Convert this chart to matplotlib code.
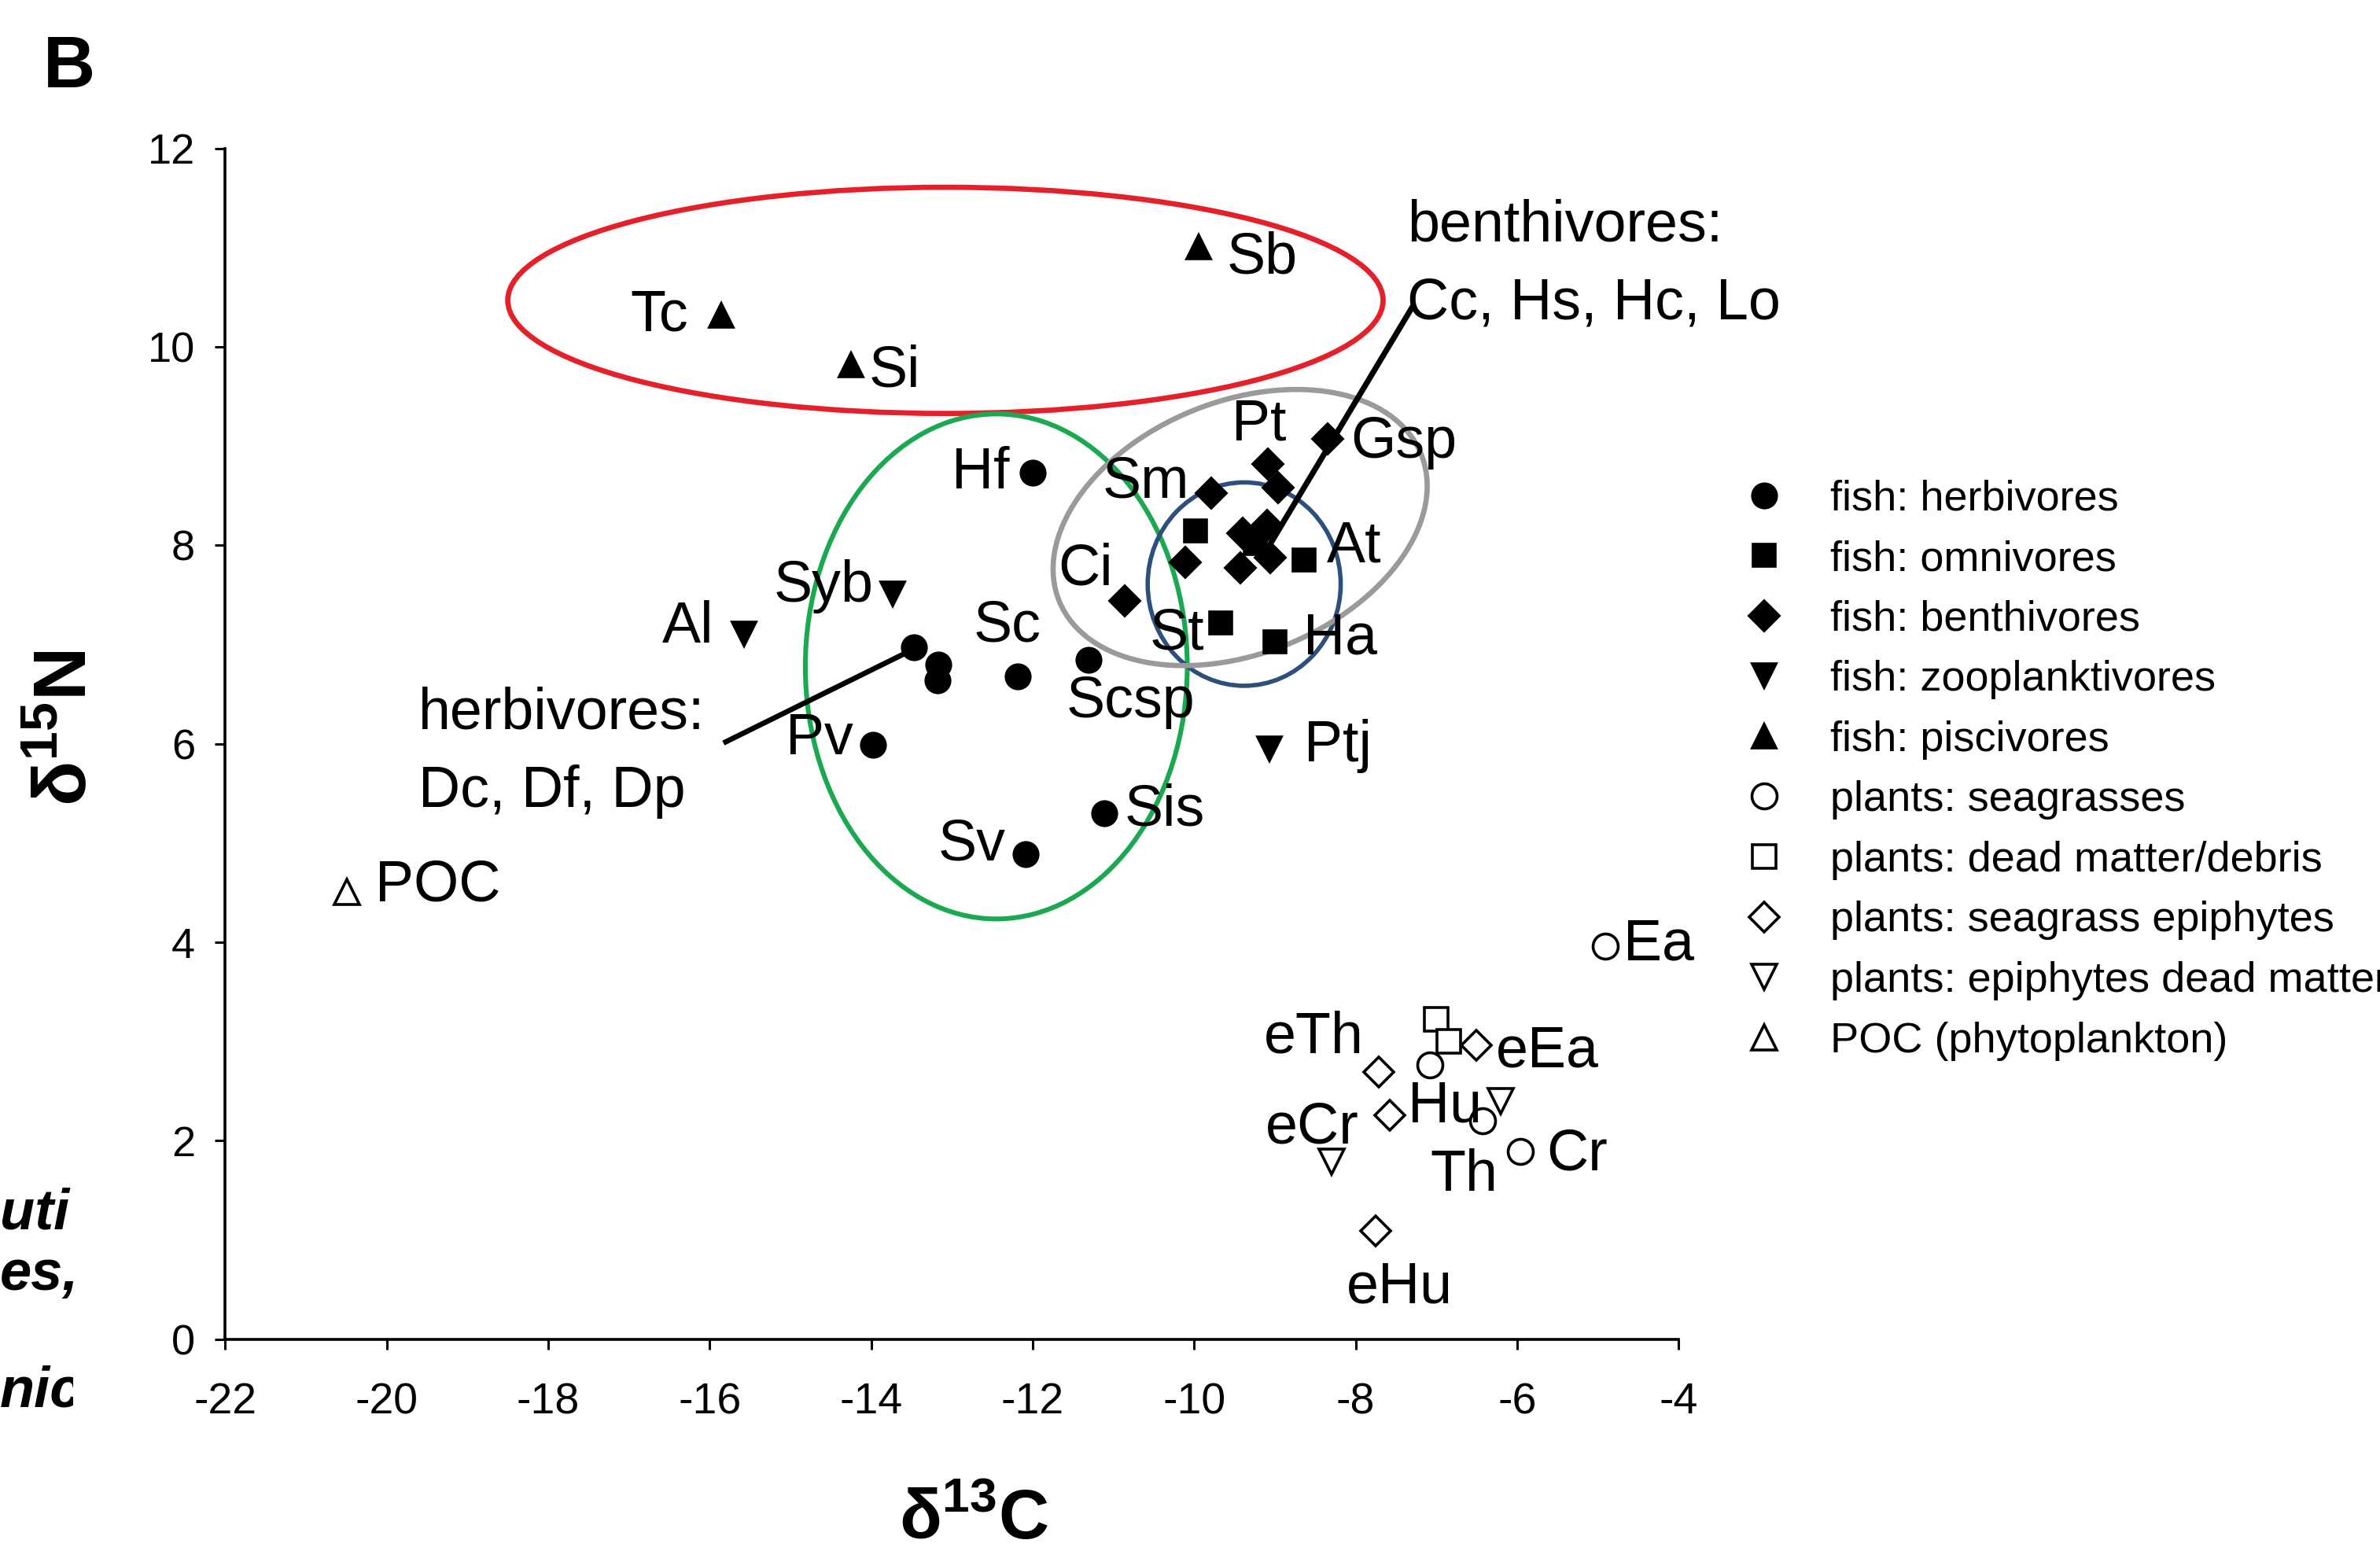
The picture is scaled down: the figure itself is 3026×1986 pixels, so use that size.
import matplotlib
matplotlib.use("Agg")
import matplotlib.pyplot as plt
from matplotlib.patches import Ellipse
from matplotlib.transforms import Affine2D, Bbox, TransformedBbox

plt.rcParams["font.family"] = ["Liberation Sans", "DejaVu Sans"]
plt.rcParams["mathtext.fontset"] = "custom"
plt.rcParams["mathtext.rm"] = "Liberation Sans"
plt.rcParams["mathtext.bf"] = "Liberation Sans:bold"
plt.rcParams["axes.unicode_minus"] = False

LABEL_SIZE = 26.5

# fish
herb_names = ["Hf", "Sc", "Scsp", "Pv", "Sv", "Sis", "Dc", "Df", "Dp"]
herb_x = [-12.00, -12.18, -11.31, -13.98, -12.09, -11.11, -13.47, -13.17, -13.18]
herb_y = [8.73, 6.68, 6.85, 5.99, 4.89, 5.30, 6.97, 6.80, 6.64]

omni_names = ["", "", "At", "St", "Ha"]
omni_x = [-9.98, -9.24, -8.64, -9.67, -9.00]
omni_y = [8.15, 8.02, 7.85, 7.22, 7.03]

benth_names = ["Pt", "Sm", "", "Gsp", "", "Ci", "", "", "", ""]
benth_x = [-9.09, -9.79, -8.96, -8.35, -10.11, -10.86, -9.40, -9.43, -9.06, -9.10]
benth_y = [8.82, 8.53, 8.58, 9.07, 7.83, 7.44, 8.12, 7.77, 7.88, 8.20]

zoo_names = ["Al", "Syb", "Ptj"]
zoo_x = [-15.57, -13.73, -9.07]
zoo_y = [7.11, 7.51, 5.95]

pisc_names = ["Tc", "Si", "Sb"]
pisc_x = [-15.86, -14.25, -9.94]
pisc_y = [10.32, 9.82, 11.01]

# plants
grass_names = ["Ea", "Hu", "Th", "Cr"]
grass_x = [-4.91, -7.08, -6.43, -5.96]
grass_y = [3.96, 2.76, 2.20, 1.89]

dead_names = ["", ""]
dead_x = [-7.00, -6.85]
dead_y = [3.22, 3.00]

epi_names = ["eTh", "eEa", "eCr", "eHu"]
epi_x = [-7.71, -6.51, -7.58, -7.75]
epi_y = [2.69, 2.96, 2.26, 1.09]

epidead_names = ["", ""]
epidead_x = [-6.20, -8.30]
epidead_y = [2.40, 1.79]

poc_names = ["POC"]
poc_x = [-20.49]
poc_y = [4.51]

# label placement: (dx pt, dy pt, ha); names not listed get no label
OFFSETS = {
    "Tc": (-15, 0, "right"), "Si": (8, -3, "left"), "Sb": (12.5, -5, "left"),
    "Al": (-14, 3, "right"), "Syb": (-9, 3.5, "right"), "Ptj": (16, 1.4, "left"),
    "Hf": (-10.5, 0, "right"), "Pv": (-9, 2.8, "right"), "Sv": (-9, 4.2, "right"),
    "Sis": (9, 1.4, "left"), "Sc": (-5, 23, "center"), "Scsp": (19.5, -19.5, "center"),
    "Sm": (-30, 5, "center"), "Pt": (-4, 18, "center"), "Gsp": (10.5, -1.4, "left"),
    "Ci": (-18, 14.6, "center"), "At": (10.5, 6.3, "left"), "St": (-20, -5, "center"),
    "Ha": (13, 1.4, "left"), "POC": (13, 2.8, "left"), "Ea": (8.4, 0.7, "left"),
    "eTh": (-30, 16, "center"), "eEa": (9, -2.8, "left"), "Hu": (7, -18.8, "center"),
    "eCr": (-35.5, -6, "center"), "Th": (-8.4, -25, "center"), "Cr": (12, -1.4, "left"),
    "eHu": (11, -26, "center"),
}

groups = [
    ("fish: herbivores", herb_x, herb_y, herb_names, "o", 11, True),
    ("fish: omnivores", omni_x, omni_y, omni_names, "s", 10, True),
    ("fish: benthivores", benth_x, benth_y, benth_names, "D", 9.5, True),
    ("fish: zooplanktivores", zoo_x, zoo_y, zoo_names, "v", 11, True),
    ("fish: piscivores", pisc_x, pisc_y, pisc_names, "^", 11, True),
    ("plants: seagrasses", grass_x, grass_y, grass_names, "o", 11.5, False),
    ("plants: dead matter/debris", dead_x, dead_y, dead_names, "s", 10.5, False),
    ("plants: seagrass epiphytes", epi_x, epi_y, epi_names, "D", 9.5, False),
    ("plants: epiphytes dead matter", epidead_x, epidead_y, epidead_names, "v", 11.5, False),
    ("POC (phytoplankton)", poc_x, poc_y, poc_names, "^", 11.5, False),
]

fig = plt.figure(figsize=(15.13, 9.93), dpi=200)
ax = fig.add_axes([0.0946, 0.1427, 0.6107, 0.7622])

handles = []
for label, xs, ys, names, marker, ms, filled in groups:
    h, = ax.plot(xs, ys, ls="none", marker=marker, ms=ms,
                 mfc="black" if filled else "white", mec="black",
                 mew=1.3, label=label, clip_on=False, zorder=4)
    handles.append(h)
    for n, x, y in zip(names, xs, ys):
        if n not in OFFSETS:
            continue
        dx, dy, ha = OFFSETS[n]
        ax.annotate(n, (x, y), xytext=(dx, dy), textcoords="offset points",
                    ha=ha, va="center", fontsize=LABEL_SIZE, zorder=5)

# group ellipses
ax.add_patch(Ellipse((-13.08, 10.47), 10.84, 2.28, fill=False,
                     ec="#e5202a", lw=2.4, zorder=3))
ax.add_patch(Ellipse((-12.45, 6.78), 4.73, 5.09, fill=False,
                     ec="#1aa851", lw=2.2, zorder=3))
ax.add_patch(Ellipse((-9.38, 7.61), 2.39, 2.05, fill=False,
                     ec="#2c4f7c", lw=2.0, zorder=3))
k = 1.2326  # y/x pixel ratio of data units
gray_tr = Affine2D().scale(1, 1 / k).translate(-9.43, 8.18) + ax.transData
ax.add_patch(Ellipse((0, 0), 2 * 2.42, 2 * 1.566, angle=22.3, fill=False,
                     ec="#9a9a9a", lw=2.4, transform=gray_tr, zorder=3))

# pointer lines
ax.plot([-15.80, -13.46], [6.02, 6.96], color="black", lw=2.4, zorder=3)
ax.plot([-7.30, -9.09], [10.40, 7.97], color="black", lw=2.6, zorder=3)

ax.text(-7.36, 11.22, "benthivores:", fontsize=LABEL_SIZE, va="center")
ax.text(-7.36, 10.44, "Cc, Hs, Hc, Lo", fontsize=LABEL_SIZE, va="center")
ax.text(-19.61, 6.31, "herbivores:", fontsize=LABEL_SIZE, va="center")
ax.text(-19.61, 5.52, "Dc, Df, Dp", fontsize=LABEL_SIZE, va="center")

ax.set_xlim(-22, -4)
ax.set_ylim(0, 12)
ax.set_xticks(range(-22, -3, 2))
ax.set_yticks(range(0, 13, 2))
for s in ["top", "right"]:
    ax.spines[s].set_visible(False)
for s in ["left", "bottom"]:
    ax.spines[s].set_linewidth(1.3)
ax.tick_params(axis="both", direction="out", length=4.7, width=1.1, colors="black")
ax.tick_params(axis="x", pad=15, labelsize=20)
ax.tick_params(axis="y", pad=9, labelsize=19.5)

ax.set_xlabel("δ$^{\\mathbf{13}}$C", fontsize=32, fontweight="bold")
ax.xaxis.set_label_coords(0.515, -0.125)
ax.set_ylabel("δ$^{\\mathbf{15}}$N", fontsize=34, fontweight="bold")
ax.yaxis.set_label_coords(-0.085, 0.513)

ax.legend(handles=handles, loc="upper left", bbox_to_anchor=(0.7323, 0.693),
          bbox_transform=fig.transFigure, frameon=False, numpoints=1,
          prop={"size": 19.5}, borderpad=0, borderaxespad=0,
          handlelength=1.0, handletextpad=1.05, labelspacing=0.49)

fig.text(0.018, 0.956, "B", fontsize=33, fontweight="bold", va="center")

# cut-off fragments of neighbouring page text on the left edge
clip = TransformedBbox(Bbox([[0, 0], [0.0307, 1]]), fig.transFigure)
for s, yy in [("uti", 0.223), ("es,", 0.184), ("nic", 0.109)]:
    t = fig.text(0.0, yy, s, fontsize=26, fontweight="bold", style="italic",
                 ha="left", va="center")
    t.set_clip_box(clip)
    t.set_clip_on(True)

fig.savefig("out.png", dpi=200)
